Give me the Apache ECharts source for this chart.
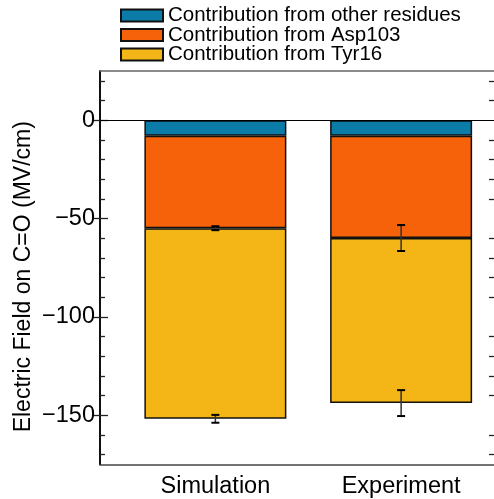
<!DOCTYPE html>
<html>
<head>
<meta charset="utf-8">
<script src="https://cdn.jsdelivr.net/npm/echarts@6/dist/echarts.min.js"></script>
<style>
    html, body { margin: 0; padding: 0; background: #fff; }
    #chart { width: 494px; height: 499px; }
</style>
</head>
<body>
<div id="chart"></div>
<script>
var categories = ['Simulation', 'Experiment'];
var otherResidues = [-8, -8];
var asp103 = [-47, -52];
var tyr16 = [-97, -84];
var asp103Err = [1, 6.6];
var tyr16Err = [2, 6.6];
var majorTicks = [0, -50, -100, -150];
var minorTicks = [20, 10, -10, -20, -30, -40, -60, -70, -80, -90, -110, -120, -130, -140, -160, -170];

var FONT = '"Liberation Sans", Arial, Helvetica, sans-serif';
var yMin = -175, yMax = 25;

var myChart = echarts.init(document.getElementById('chart'));

// error bars sit at the end of the stacked segment
var errData = [];
for (var i = 0; i < categories.length; i++) {
    var aspEnd = otherResidues[i] + asp103[i];
    var tyrEnd = aspEnd + tyr16[i];
    errData.push([i, aspEnd - asp103Err[i], aspEnd + asp103Err[i]]);
    errData.push([i, tyrEnd - tyr16Err[i], tyrEnd + tyr16Err[i]]);
}

function yAxisDef(grid, pos, showLabel, ticks, len) {
    return {
        type: 'value',
        gridIndex: grid,
        position: pos,
        min: yMin,
        max: yMax,
        splitLine: { show: false },
        axisLine: { show: true, lineStyle: { color: '#000', width: 1.5 } },
        axisTick: {
            show: true,
            inside: true,
            length: len,
            customValues: ticks,
            lineStyle: { color: '#222', width: 1.3 }
        },
        axisLabel: {
            show: showLabel,
            customValues: majorTicks,
            margin: 5,
            color: '#000',
            fontSize: 23.5,
            fontFamily: FONT,
            formatter: function (v) {
                return v < 0 ? '\u2212' + Math.abs(v) : String(v);
            }
        }
    };
}

var barStyle = { borderColor: '#111', borderWidth: 1.5 };

var leftAxis = yAxisDef(0, 'left', true, majorTicks, 8);
leftAxis.name = 'Electric Field on C=O (MV/cm)';
leftAxis.nameLocation = 'middle';
leftAxis.nameGap = 65;
leftAxis.nameMoveOverlap = false;
leftAxis.nameTextStyle = { color: '#000', fontSize: 23, fontFamily: FONT, padding: [0, 18, 0, 0] };

var leftMinor = yAxisDef(0, 'left', false, minorTicks, 5);
leftMinor.axisLine = { show: false };
var rightMajor = yAxisDef(0, 'right', false, majorTicks, 8);
var rightMinor = yAxisDef(0, 'right', false, minorTicks, 5);
rightMinor.axisLine = { show: false };

// bars live in their own grid so the two bands land where the reference puts them
var barY = yAxisDef(1, 'left', false, [], 0);
barY.axisLine = { show: false };
barY.axisTick = { show: false };

var option = {
    animation: false,
    legend: {
        orient: 'vertical',
        left: 115,
        top: 0,
        itemWidth: 42,
        itemHeight: 12,
        itemGap: -1.5,
        icon: 'rect',
        textStyle: { color: '#000', fontSize: 20.5, lineHeight: 18, fontFamily: FONT },
        data: ['Contribution from other residues', 'Contribution from Asp103', 'Contribution from Tyr16']
    },
    grid: [
        { left: 100, top: 71, width: 396, height: 393.5 },
        { left: 122.5, top: 71, width: 374, height: 393.5 }
    ],
    xAxis: [{
        type: 'value',
        gridIndex: 0,
        min: 0,
        max: 1,
        splitLine: { show: false },
        axisTick: { show: false },
        axisLabel: { show: false },
        axisLine: { show: true, onZero: false, lineStyle: { color: '#444', width: 1.5 } }
    }, {
        type: 'value',
        gridIndex: 0,
        position: 'top',
        min: 0,
        max: 1,
        splitLine: { show: false },
        axisTick: { show: false },
        axisLabel: { show: false },
        axisLine: { show: true, onZero: false, lineStyle: { color: '#666', width: 1.5 } }
    }, {
        type: 'category',
        gridIndex: 1,
        data: categories,
        axisTick: { show: false },
        axisLine: { show: false },
        axisLabel: {
            margin: 11,
            color: '#000',
            fontSize: 23.5,
            fontFamily: FONT
        }
    }],
    yAxis: [leftAxis, rightMajor, leftMinor, rightMinor, barY],
    series: [{
        type: 'line',
        xAxisIndex: 0,
        yAxisIndex: 0,
        data: [],
        markLine: {
            silent: true,
            symbol: 'none',
            label: { show: false },
            lineStyle: { color: '#000', width: 1.2, type: 'solid' },
            data: [{ yAxis: 0 }]
        }
    }, {
        name: 'Contribution from other residues',
        type: 'bar',
        xAxisIndex: 2,
        yAxisIndex: 4,
        stack: 'total',
        barWidth: 142,
        itemStyle: Object.assign({ color: '#0b7ba8' }, barStyle),
        data: otherResidues
    }, {
        name: 'Contribution from Asp103',
        type: 'bar',
        xAxisIndex: 2,
        yAxisIndex: 4,
        stack: 'total',
        barWidth: 142,
        itemStyle: Object.assign({ color: '#f5620a' }, barStyle),
        data: asp103
    }, {
        name: 'Contribution from Tyr16',
        type: 'bar',
        xAxisIndex: 2,
        yAxisIndex: 4,
        stack: 'total',
        barWidth: 142,
        itemStyle: Object.assign({ color: '#f3b616' }, barStyle),
        data: tyr16
    }, {
        type: 'custom',
        xAxisIndex: 2,
        yAxisIndex: 4,
        z: 10,
        data: errData,
        renderItem: function (params, api) {
            var x = api.value(0);
            var lo = api.coord([x, api.value(1)]);
            var hi = api.coord([x, api.value(2)]);
            var cap = 4;
            return {
                type: 'group',
                children: [{
                    type: 'line',
                    shape: { x1: lo[0], y1: lo[1], x2: hi[0], y2: hi[1] },
                    style: { stroke: '#333', lineWidth: 1.5 }
                }, {
                    type: 'line',
                    shape: { x1: lo[0] - cap, y1: lo[1], x2: lo[0] + cap, y2: lo[1] },
                    style: { stroke: '#000', lineWidth: 2 }
                }, {
                    type: 'line',
                    shape: { x1: hi[0] - cap, y1: hi[1], x2: hi[0] + cap, y2: hi[1] },
                    style: { stroke: '#000', lineWidth: 2 }
                }]
            };
        }
    }]
};

myChart.setOption(option);

window.addEventListener('resize', function () {
    myChart.resize();
});
</script>
</body>
</html>
